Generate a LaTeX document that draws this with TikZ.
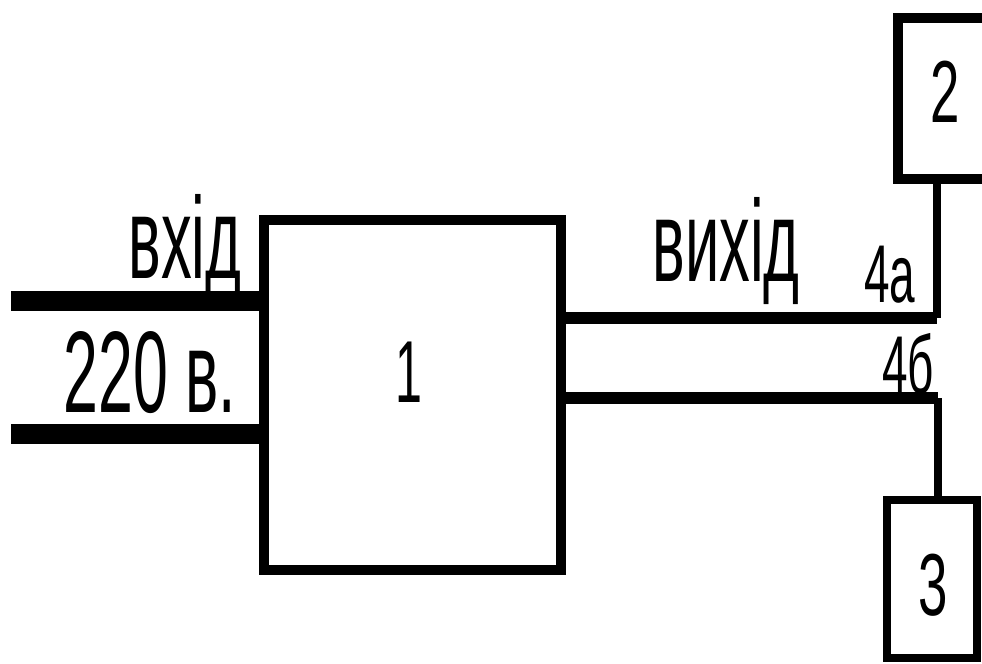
\documentclass[tikz,border=0pt]{standalone}
\usepackage{graphicx}
\usepackage{fontspec}
\setmainfont{Liberation Sans}
\begin{document}
\begin{tikzpicture}[x=0.5pt,y=-0.5pt,
  blk/.style={draw=black, fill=white, inner sep=0pt, line width=5pt},
  big/.style={inner sep=0pt, anchor=base west, font=\fontsize{58}{60}\selectfont},
  num/.style={inner sep=0pt, anchor=base, font=\fontsize{44}{46}\selectfont},
  small/.style={inner sep=0pt, anchor=base west, font=\fontsize{41}{43}\selectfont},
  inwire/.style={line width=10pt},
  outwire/.style={line width=6pt},
  vwire/.style={line width=4pt}]
\useasboundingbox (0,0) rectangle (982,664);
\clip (0,0) rectangle (982,664);
% blocks
\node[blk, minimum width=148.5pt, minimum height=175pt] (box1) at (412.5,395) {};
\node[blk, minimum width=46pt, minimum height=80.5pt] (box2) at (944,98.5) {};
\node[blk, line width=4pt, minimum width=45pt, minimum height=79pt] (box3) at (932,579) {};
% wire coordinates
\coordinate (inA) at (11,301);
\coordinate (inB) at (11,434);
\coordinate (outA) at (937,318);
\coordinate (outB) at (938,398);
% input wires
\draw[inwire] (inA) -- (box1.west |- inA);
\draw[inwire] (inB) -- (box1.west |- inB);
% output wires
\draw[outwire] (box1.east |- outA) -- (outA);
\draw[vwire] (outA) -- (outA |- box2.south);
\draw[outwire] (box1.east |- outB) -- (outB);
\draw[vwire] (outB) -- (outB |- box3.north);
% labels
\node[big] (tin) at (128,278) {\scalebox{0.53}[1]{вхід}};
\node[big] (tv) at (63,412) {\scalebox{0.54}[1]{220 в.}};
\node[big] (tout) at (652,281) {\scalebox{0.53}[1]{вихід}};
\node[num] (t1) at (409,402) {\scalebox{0.55}[1]{1}};
\node[num] (t2) at (945,122) {\scalebox{0.6}[1]{2}};
\node[num] (t3) at (933,615) {\scalebox{0.6}[1]{3}};
\node[small] (t4a) at (864,302) {\scalebox{0.56}[1]{4а}};
\node[small] (t4b) at (882,393) {\scalebox{0.56}[1]{4б}};
\end{tikzpicture}
\end{document}
